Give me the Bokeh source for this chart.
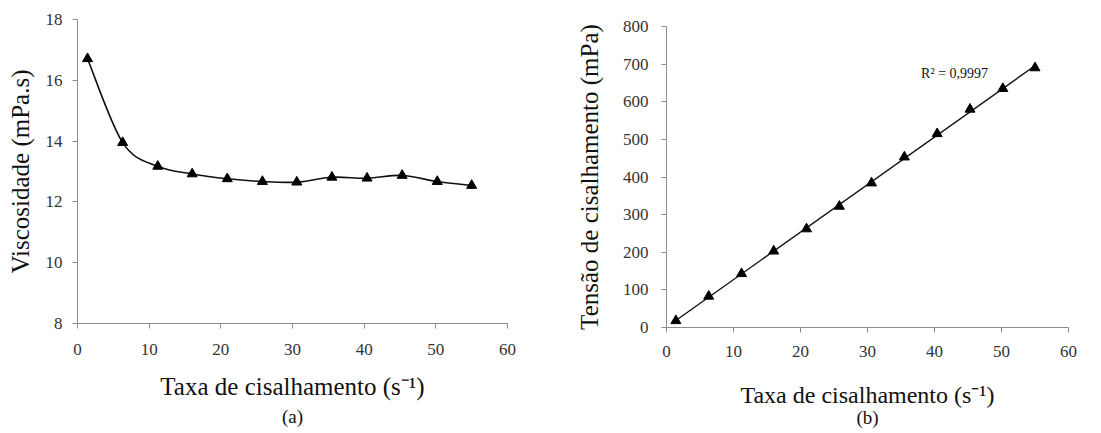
import numpy as np
from bokeh.plotting import figure
from bokeh.layouts import row, column
from bokeh.models import Title, Label, FixedTicker
from bokeh.embed import file_html
from bokeh.resources import INLINE

# ---- data ----
shear_rate = [1.4, 6.3, 11.2, 16.0, 20.9, 25.8, 30.6, 35.5, 40.4, 45.3, 50.2, 55.0]
viscosity = [16.71, 13.95, 13.17, 12.92, 12.76, 12.67, 12.65, 12.81, 12.78, 12.87, 12.67, 12.54]
shear_stress = [18, 83, 143, 203, 262, 322, 384, 453, 515, 580, 635, 690]
r2_label = "R² = 0,9997"
x_ticks = [0, 10, 20, 30, 40, 50, 60]
visc_ticks = [8, 10, 12, 14, 16, 18]
stress_ticks = [0, 100, 200, 300, 400, 500, 600, 700, 800]

SERIF = "Liberation Serif"
AXIS_COLOR = "#8c8c8c"


def style(p, xticks, yticks):
    p.outline_line_color = None
    p.xgrid.grid_line_color = None
    p.ygrid.grid_line_color = None
    p.xaxis.ticker = FixedTicker(ticks=xticks)
    p.yaxis.ticker = FixedTicker(ticks=yticks)
    for ax in (p.xaxis[0], p.yaxis[0]):
        ax.axis_line_color = AXIS_COLOR
        ax.major_tick_line_color = AXIS_COLOR
        ax.minor_tick_line_color = None
        ax.major_tick_in = 0
        ax.major_tick_out = 5
        ax.major_label_text_font = SERIF
        ax.major_label_text_font_size = "17px"
        ax.major_label_text_color = "#333333"
        ax.axis_label_text_font = SERIF
        ax.axis_label_text_font_style = "normal"
        ax.axis_label_text_color = "#111111"
        ax.axis_label_text_font_size = "25px"


H = 428

# ---- left chart (a) ----
pa = figure(width=545, height=H, x_range=(0, 60), y_range=(8, 18),
            output_backend="svg", toolbar_location=None,
            min_border_left=77, min_border_right=38, min_border_top=19,
            min_border_bottom=H - 19 - 304)
style(pa, x_ticks, visc_ticks)
pa.xaxis.axis_label = "Taxa de cisalhamento (s⁻¹)"
pa.yaxis.axis_label = "Viscosidade (mPa.s)"
pa.xaxis.major_label_standoff = 15
pa.xaxis.axis_label_standoff = 15
pa.yaxis.major_label_standoff = 10
pa.yaxis.axis_label_standoff = 9

# smoothed (Catmull-Rom -> cubic Bezier) line through the data points
x = np.array(shear_rate, dtype=float)
y = np.array(viscosity, dtype=float)
xp = np.concatenate([[x[0]], x, [x[-1]]])
yp = np.concatenate([[y[0]], y, [y[-1]]])
n = len(x)
x0, y0, x1, y1, cx0, cy0, cx1, cy1 = [], [], [], [], [], [], [], []
for i in range(n - 1):
    j = i + 1
    x0.append(xp[j]); y0.append(yp[j])
    x1.append(xp[j + 1]); y1.append(yp[j + 1])
    cx0.append(xp[j] + (xp[j + 1] - xp[j - 1]) / 6)
    cy0.append(yp[j] + (yp[j + 1] - yp[j - 1]) / 6)
    cx1.append(xp[j + 1] - (xp[j + 2] - xp[j]) / 6)
    cy1.append(yp[j + 1] - (yp[j + 2] - yp[j]) / 6)
pa.bezier(x0=x0, y0=y0, x1=x1, y1=y1, cx0=cx0, cy0=cy0, cx1=cx1, cy1=cy1,
          line_color="#111111", line_width=1.6)
pa.scatter(shear_rate, viscosity, marker="triangle", size=10,
           fill_color="black", line_color="black")
pa.add_layout(Title(text="(a)", align="center", text_font=SERIF,
                    text_font_size="19px", text_font_style="normal",
                    text_color="#111111", standoff=3), "below")

# ---- right chart (b) ----
pb = figure(width=548, height=H, x_range=(0, 60), y_range=(0, 800),
            output_backend="svg", toolbar_location=None,
            min_border_left=121, min_border_right=25, min_border_top=26,
            min_border_bottom=H - 26 - 301)
style(pb, x_ticks, stress_ticks)
pb.xaxis.axis_label = "Taxa de cisalhamento (s⁻¹)"
pb.yaxis.axis_label = "Tensão de cisalhamento (mPa)"
pb.xaxis.axis_label_text_font_size = "24px"
pb.xaxis.major_label_standoff = 13
pb.xaxis.axis_label_standoff = 22
pb.yaxis.major_label_standoff = 13
pb.yaxis.axis_label_standoff = 17

slope, intercept = np.polyfit(shear_rate, shear_stress, 1)
xs = [shear_rate[0], shear_rate[-1]]
pb.line(xs, [slope * v + intercept for v in xs], line_color="#111111", line_width=1.4)
pb.scatter(shear_rate, shear_stress, marker="triangle", size=10,
           fill_color="black", line_color="black")
pb.add_layout(Label(x=38, y=675, text=r2_label, text_font=SERIF,
                    text_font_size="14px", text_color="#111111",
                    text_baseline="middle"))
pb.add_layout(Title(text="(b)", align="center", text_font=SERIF,
                    text_font_size="19px", text_font_style="normal",
                    text_color="#111111", standoff=-12), "below")

layout = row(column(pa), column(pb))
open("out.html", "w").write(file_html(layout, INLINE))
